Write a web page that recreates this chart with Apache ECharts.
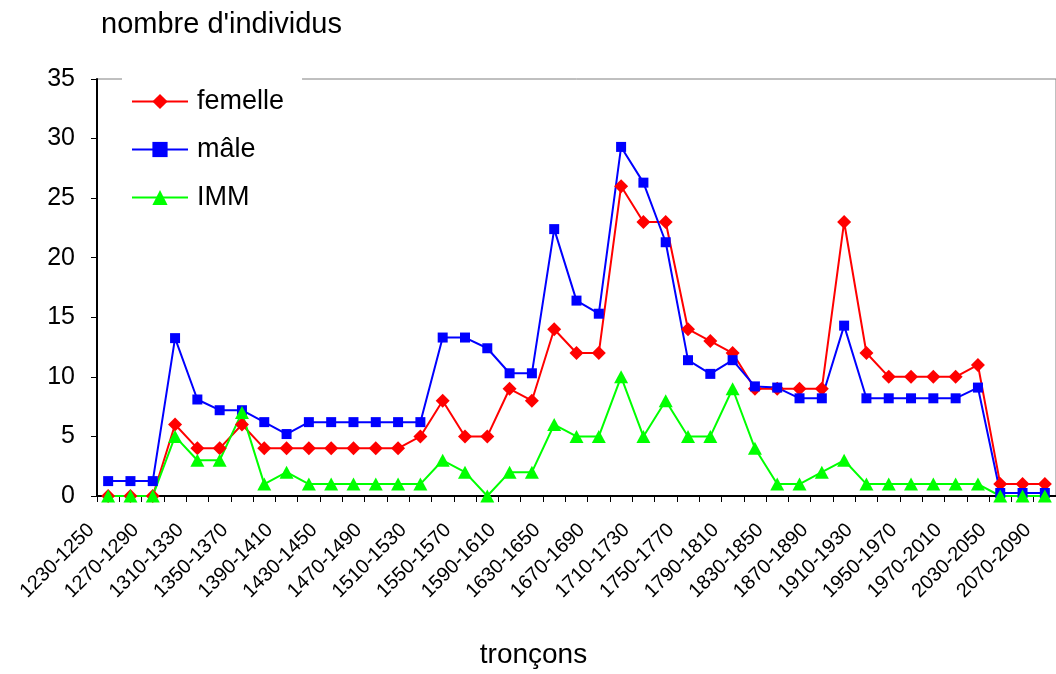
<!DOCTYPE html>
<html>
<head>
<meta charset="utf-8">
<script src="https://cdn.jsdelivr.net/npm/echarts@6/dist/echarts.min.js"></script>
<style>
html,body{margin:0;padding:0;background:#fff;}
#chart{width:1056px;height:674px;}
</style>
</head>
<body>
<div id="chart"></div>
<script>
// ---- data ----
const categories = [
  "1230-1250","1250-1270","1270-1290","1290-1310","1310-1330","1330-1350",
  "1350-1370","1370-1390","1390-1410","1410-1430","1430-1450","1450-1470",
  "1470-1490","1490-1510","1510-1530","1530-1550","1550-1570","1570-1590",
  "1590-1610","1610-1630","1630-1650","1650-1670","1670-1690","1690-1710",
  "1710-1730","1730-1750","1750-1770","1770-1790","1790-1810","1810-1830",
  "1830-1850","1850-1870","1870-1890","1890-1910","1910-1930","1930-1950",
  "1950-1970","1970-1990","1970-2010","2010-2030","2030-2050","2050-2070",
  "2070-2090"
];
const femelle = [
  0,0,0,6,4,4,6,4,4,4,4,4,4,4,5,
  8,5,5,9,8,14,12,12,26,23,23,14,13,12,
  9,9,9,9,23,12,10,10,10,10,11,1,1,1
];
const male = [
  1.25,1.25,1.25,13.25,8.1,7.2,7.2,6.2,5.2,6.2,6.2,6.2,6.2,6.2,6.2,
  13.3,13.3,12.4,10.3,10.3,22.4,16.4,15.3,29.3,26.3,21.3,11.4,10.25,11.4,
  9.2,9.1,8.2,8.2,14.3,8.2,8.2,8.2,8.2,8.2,9.1,0.25,0.25,0.25
];
const imm = [
  0,0,0,5,3,3,7,1,2,1,1,1,1,1,1,
  3,2,0,2,2,6,5,5,10,5,8,5,5,9,
  4,1,1,2,3,1,1,1,1,1,1,0,0,0
];
const seriesNames = ["femelle", "mâle", "IMM"];
const yMin = 0, yMax = 35, yInterval = 5;
const yTitle = "nombre d'individus";
const xTitle = "tronçons";

// ---- chart ----
const FONT = "'Liberation Sans', Arial, sans-serif";
const chart = echarts.init(document.getElementById('chart'), null, {renderer: 'canvas'});
chart.setOption({
  animation: false,
  backgroundColor: '#ffffff',
  textStyle: {fontFamily: FONT, color: '#000'},
  title: {
    text: yTitle,
    left: 96, top: 5,
    textStyle: {fontFamily: FONT, fontSize: 29, fontWeight: 'normal', color: '#000'}
  },
  grid: {
    left: 97, top: 79, right: -2, bottom: 174,
    show: true, borderColor: '#808080', borderWidth: 1,
    backgroundColor: 'transparent'
  },
  legend: {
    orient: 'vertical',
    left: 122, top: 74,
    itemWidth: 56, itemHeight: 19, itemGap: 21,
    padding: [14, 18, 14, 9],
    backgroundColor: '#fff',
    selectedMode: false,
    textStyle: {fontFamily: FONT, fontSize: 27, color: '#000', lineHeight: 27, padding: [0,0,0,4]},
    data: seriesNames
  },
  xAxis: {
    type: 'category',
    data: categories,
    boundaryGap: true,
    axisLine: {lineStyle: {color: '#000', width: 2}},
    axisTick: {show: true, interval: 0, length: 6, lineStyle: {color: '#000', width: 1}},
    axisLabel: {
      interval: 1, rotate: 45, fontFamily: FONT, fontSize: 20, color: '#000',
      margin: 14, padding: [0, 24, 0, 0]
    },
    splitLine: {show: false},
    name: xTitle,
    nameLocation: 'middle',
    nameGap: 145,
    nameTextStyle: {fontFamily: FONT, fontSize: 28, color: '#000', padding: [0, 86, 0, 0]}
  },
  yAxis: {
    type: 'value',
    min: yMin, max: yMax, interval: yInterval,
    axisLine: {show: true, lineStyle: {color: '#000', width: 2}},
    axisTick: {show: true, length: 6, lineStyle: {color: '#000', width: 1}},
    axisLabel: {fontFamily: FONT, fontSize: 25, color: '#000', margin: 22},
    splitLine: {show: false}
  },
  series: [
    {
      name: seriesNames[0], type: 'line', data: femelle,
      symbol: 'diamond', symbolSize: 14,
      lineStyle: {color: '#ff0000', width: 2},
      itemStyle: {color: '#ff0000'}
    },
    {
      name: seriesNames[1], type: 'line', data: male,
      symbol: 'rect', symbolSize: 10,
      lineStyle: {color: '#0000ff', width: 2},
      itemStyle: {color: '#0000ff'}
    },
    {
      name: seriesNames[2], type: 'line', data: imm,
      symbol: 'triangle', symbolSize: [14, 13],
      lineStyle: {color: '#00ff00', width: 2},
      itemStyle: {color: '#00ff00'}
    }
  ]
});
</script>
</body>
</html>
